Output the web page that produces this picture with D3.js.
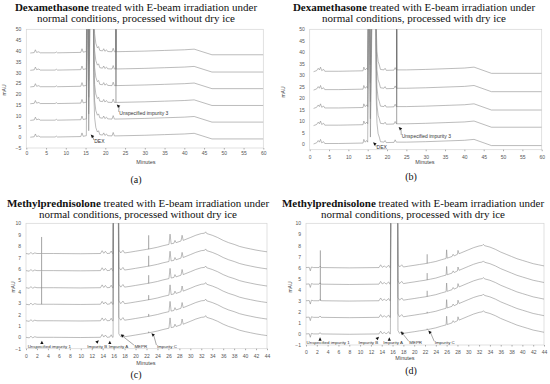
<!DOCTYPE html>
<html>
<head>
<meta charset="utf-8">
<script src="https://cdn.jsdelivr.net/npm/d3@7"></script>
<style>
  body { margin: 0; background: #fff; }
  text { font-family: "Liberation Sans", "Open Sans", sans-serif; }
</style>
</head>
<body>
<div id="d3-container"></div>
<script>
// ---- data ----
// chromatogram profiles: [minutes, mAU] above each trace's baseline offset
const profileA = [[1,0],[2,0.2],[2.3,1.5],[2.6,0.3],[3.2,0.6],[3.5,0.1],[7.3,0.1],[7.6,0.5],[7.9,0.1],
  [13.8,0.3],[14.1,2.0],[14.4,0.4],[14.9,0.6],[15.2,0.7],[15.5,80],[15.8,3],[16.3,80],[16.9,80],
  [17.1,20],[17.3,9],[17.6,4.5],[18.0,2.4],[18.3,3.0],[18.6,1.2],[19.3,1.0],[19.6,2.0],[19.9,0.8],[20.3,1.5],
  [20.6,0.7],[21.7,0.6],[22.0,2.2],[22.3,0.6],[25,0.7],[30,0.9],[35,1.2],[40,1.5],[42.5,1.8],
  [47,-0.8],[60,-0.8]];
const offsetsA = [0, 7.8, 15.5, 23.3, 31, 39];
const spikesA = [[2,22.7,0.6,60],[3,22.7,0.6,60],[4,22.7,0.6,60],[5,22.7,0.6,60]];

const profileB = [[1,0],[1.8,0.5],[2.2,1.5],[2.5,0.8],[2.8,2.0],[3.1,0.5],[3.6,1.0],[3.9,0.2],[7.5,0.2],
  [13.8,0.4],[14.0,2.0],[14.3,0.8],[14.8,1.5],[15.0,0.8],[15.3,80],[15.7,3],[16.3,80],[17.0,80],
  [17.2,20],[17.4,9],[17.7,4.5],[18.0,3.0],[18.3,1.0],[19.2,0.8],[19.5,1.5],[19.8,0.6],[21.8,0.7],[22.1,1.8],
  [22.4,0.8],[25,0.8],[30,1.0],[35,1.3],[40,1.6],[42.5,2.0],[47,-0.7],[60,-0.7]];
const offsetsB = [0, 8, 15.5, 23.5, 31.5];
const spikesB = [[1,22.5,0.8,60],[2,22.5,0.8,60],[3,22.5,0.8,60],[4,22.5,0.8,60]];

const profileC = [[0,0],[0.6,-0.05],[0.9,0.1],[1.2,-0.05],[1.6,0.05],[2.0,0],[5,0],[10,-0.02],[13.6,0],
  [13.9,0.25],[14.2,0.02],[14.5,0.2],[14.8,0],[15.3,0.02],[15.55,0.22],[15.8,0],[15.9,0],[16.15,40],
  [16.6,40],[16.95,0.3],[17.3,0.05],[17.7,0.28],[18.0,0.05],[19,0.12],[20,0.2],[21,0.28],[22,0.36],
  [23,0.45],[24,0.55],[25,0.68],[26.1,0.8],[26.3,1.7],[26.5,0.85],[27.0,0.9],[27.2,1.15],[27.4,0.95],
  [28.3,1.1],[28.5,1.6],[28.7,1.15],[30,1.4],[31,1.6],[32,1.75],[32.6,1.78],[32.8,1.9],[33.0,1.75],
  [34,1.6],[35,1.4],[36,1.15],[37,0.95],[38,0.8],[39,0.62],[40,0.5],[41,0.4],[42,0.3],[43,0.22],[44,0.15]];
const offsetsC = [0, 1.45, 2.9, 4.35, 5.85, 7.35];
const spikesC = [[2,2.85,0,1.45],[3,2.85,0,1.45],[4,2.85,0,1.45],[5,2.85,0,1.45],
  [0,22.4,0.38,0.5],[1,22.4,0.38,0.6],[2,22.4,0.38,0.8],[3,22.4,0.38,1.1],[4,22.4,0.38,1.3],[5,22.4,0.38,1.6]];

const profileD = [[0,0],[0.6,0.02],[0.8,-0.3],[1.0,0.05],[1.4,0],[2.4,0],[2.6,0.12],[2.8,0],[8,-0.03],
  [13.5,0],[13.8,0.25],[14.1,0.02],[14.5,0.15],[14.8,0],[15.3,0.2],[15.5,0],[15.6,0],[15.95,40],
  [16.75,40],[17.0,0.3],[17.3,0.05],[17.7,0.25],[18,0.05],[19,0.13],[20,0.2],[21,0.28],[22,0.35],
  [23,0.45],[24,0.55],[25,0.7],[25.9,0.82],[26.0,1.6],[26.1,0.85],[27,1.0],[27.2,1.2],[27.4,1.05],
  [28,1.2],[28.1,1.55],[28.3,1.25],[30,1.6],[31,1.8],[32,1.95],[32.6,2.0],[32.8,2.1],[33,1.98],
  [34,1.85],[35,1.65],[36,1.4],[37,1.2],[38,1.0],[39,0.8],[40,0.65],[41,0.5],[42,0.35],[43,0.25],[44,0.15]];
const offsetsD = [0, 1.5, 3.0, 4.5, 6.0];
const spikesD = [[2,2.65,0,1.5],[3,2.65,0,1.5],[4,2.65,0,1.55],
  [0,22.4,0.38,0.48],[1,22.4,0.38,0.5],[2,22.4,0.38,0.9],[3,22.4,0.38,1.0],[4,22.4,0.38,1.2]];

// tick labels
const xTicksDex = d3.range(0, 61, 5);
const yTicksDexA = d3.range(-5, 51, 5);
const yTicksDexB = d3.range(0, 51, 5);
const xTicksMp = d3.range(0, 45, 2);
const yTicksMp = d3.range(-1, 11, 1);

// annotations: [text, text minute, text mAU, tip minute, tip mAU, angle, tail]
const notesA = [['DEX',17.2,-1.8,16.3,1.2,-135,true],['Unspecified impurity 3',23.5,11.3,22.9,15.2,-135,true]];
const notesB = [['DEX',17.3,-1.6,16.4,0.8,-135,true],['Unspecified impurity 3',23.8,3.5,23.0,7.4,-135,true]];
const notesC = [['Unspecified impurity 1',0.3,-0.77,2.9,-0.3,-90,false],['Impurity B',11.2,-0.77,13.3,-0.25,-45,false],
  ['Impurity A',15.1,-0.77,15.3,-0.3,-90,false],['MEPR',19.8,-0.77,17.3,0.27,-135,true],
  ['Impurity C',23.9,-0.77,22.9,0.35,-135,true]];
const notesD = [['Unspecified impurity 1',0.1,-0.76,2.6,-0.3,-90,false],['Impurity B',9.7,-0.76,13.5,-0.25,-45,false],
  ['Impurity A',14.3,-0.76,15.4,-0.3,-90,false],['MEPR',19.1,-0.76,17.5,0.2,-135,true],
  ['Impurity C',23.8,-0.76,22.6,0.3,-135,true]];

const width = 550;
const height = 384;

const svg = d3.select('#d3-container')
  .append('svg')
  .attr('width', width)
  .attr('height', height);

const panels = [
  { key: 'a', profile: profileA, offsets: offsetsA, spikes: spikesA, notes: notesA, noteSize: 5,
    xDomain: [0, 60], yDomain: [-5, 50], xRange: [26.3, 263.3], yRange: [148, 29.3],
    xTicks: xTicksDex, yTicks: yTicksDexA, xPad: 2,
    title: ['Dexamethasone', ' treated with E-beam irradiation under', 'normal conditions, processed without dry ice'],
    titleX: 136, titleY: 11, mau: [6, 90], minutes: [146, 164], label: [136, 183] },
  { key: 'b', profile: profileB, offsets: offsetsB, spikes: spikesB, notes: notesB, noteSize: 5,
    xDomain: [0, 60], yDomain: [-2.5, 50], xRange: [309.7, 541.7], yRange: [149.7, 29.3],
    xTicks: xTicksDex, yTicks: yTicksDexB, xPad: 4,
    title: ['Dexamethasone', ' treated with E-beam irradiation under', 'normal conditions, processed with dry ice'],
    titleX: 414, titleY: 11, mau: [285, 92], minutes: [425, 164], label: [411, 180] },
  { key: 'c', profile: profileC, offsets: offsetsC, spikes: spikesC, notes: notesC, noteSize: 4.4,
    xDomain: [0, 44], yDomain: [-1, 10], xRange: [26, 267], yRange: [348.7, 223.3],
    xTicks: xTicksMp, yTicks: yTicksMp, xPad: 4,
    title: ['Methylprednisolone', ' treated with E-beam irradiation under', 'normal conditions, processed without dry ice'],
    titleX: 138, titleY: 207, mau: [15, 287], minutes: [146, 365], label: [136, 378] },
  { key: 'd', profile: profileD, offsets: offsetsD, spikes: spikesD, notes: notesD, noteSize: 4.4,
    xDomain: [0, 44], yDomain: [-1, 10], xRange: [306, 544], yRange: [345, 223.3],
    xTicks: xTicksMp, yTicks: yTicksMp, xPad: 4,
    title: ['Methylprednisolone', ' treated with E-beam irradiation under', 'normal conditions, processed with dry ice'],
    titleX: 413, titleY: 207, mau: [292, 287], minutes: [405, 360], label: [411, 374] }
];

panels.forEach(drawPanel);

function drawPanel(p) {
  const x = d3.scaleLinear().domain(p.xDomain).range(p.xRange);
  const y = d3.scaleLinear().domain(p.yDomain).range(p.yRange);
  const g = svg.append('g');
  const left = p.xRange[0], right = p.xRange[1], top = p.yRange[1], bottom = p.yRange[0];

  // title, serif, first word bold
  const t = g.append('text')
    .attr('x', p.titleX).attr('y', p.titleY)
    .attr('text-anchor', 'middle')
    .style('font-family', '"Liberation Serif", "DejaVu Serif", serif')
    .style('font-size', '11px')
    .attr('fill', '#111');
  t.append('tspan').attr('font-weight', 'bold').text(p.title[0]);
  t.append('tspan').text(p.title[1]);
  g.append('text')
    .attr('x', p.titleX).attr('y', p.titleY + 11.3)
    .attr('text-anchor', 'middle')
    .style('font-family', '"Liberation Serif", "DejaVu Serif", serif')
    .style('font-size', '11px')
    .attr('fill', '#111')
    .text(p.title[2]);

  // plot box
  g.append('rect')
    .attr('x', left).attr('y', top)
    .attr('width', right - left).attr('height', bottom - top)
    .attr('fill', 'none').attr('stroke', '#d4d4d4').attr('stroke-width', 0.7);

  // axes
  g.append('g')
    .attr('transform', `translate(0, ${bottom})`)
    .call(d3.axisBottom(x).tickValues(p.xTicks).tickSize(1.5).tickPadding(p.xPad))
    .call(a => a.select('.domain').remove())
    .call(a => a.selectAll('line').attr('stroke', '#aaa'))
    .call(a => a.selectAll('text').attr('font-size', '5px').attr('fill', '#555'));

  g.append('g')
    .attr('transform', `translate(${left}, 0)`)
    .call(d3.axisLeft(y).tickValues(p.yTicks).tickSize(0).tickPadding(5))
    .call(a => a.select('.domain').remove())
    .call(a => a.selectAll('text').attr('font-size', '5px').attr('fill', '#555'));

  g.append('text')
    .attr('transform', `translate(${p.mau[0]}, ${p.mau[1]}) rotate(-90)`)
    .attr('text-anchor', 'middle').attr('font-size', '5px').attr('fill', '#444')
    .text('mAU');
  g.append('text')
    .attr('x', p.minutes[0]).attr('y', p.minutes[1])
    .attr('text-anchor', 'middle').attr('font-size', '5.5px').attr('fill', '#444')
    .text('Minutes');

  g.append('text')
    .attr('x', p.label[0]).attr('y', p.label[1])
    .attr('text-anchor', 'middle')
    .style('font-family', '"Liberation Serif", "DejaVu Serif", serif')
    .style('font-size', '10px')
    .attr('fill', '#111')
    .text('(' + p.key + ')');

  // traces, clipped to the plot box
  svg.append('clipPath').attr('id', 'clip-' + p.key)
    .append('rect')
    .attr('x', left).attr('y', top)
    .attr('width', right - left).attr('height', bottom - top);

  const plot = g.append('g').attr('clip-path', `url(#clip-${p.key})`);
  const line = d3.line().x(d => x(d[0])).y(d => y(d[1]));

  plot.selectAll('path.trace')
    .data(p.offsets)
    .join('path')
      .attr('class', 'trace')
      .attr('d', off => line(p.profile.map(d => [d[0], d[1] + off])))
      .attr('fill', 'none')
      .attr('stroke', '#858585')
      .attr('stroke-width', 0.55);

  plot.selectAll('line.spike')
    .data(p.spikes)
    .join('line')
      .attr('class', 'spike')
      .attr('x1', s => x(s[1])).attr('x2', s => x(s[1]))
      .attr('y1', s => y(p.offsets[s[0]] + s[2]))
      .attr('y2', s => y(p.offsets[s[0]] + s[3]))
      .attr('stroke', '#707070')
      .attr('stroke-width', 0.65);

  // annotations
  p.notes.forEach(n => {
    const tx = x(n[3]), ty = y(n[4]);
    const ang = n[5] * Math.PI / 180;
    const len = 3.4, half = 1.6;
    const bx = tx - len * Math.cos(ang), by = ty - len * Math.sin(ang);
    const px = -Math.sin(ang) * half, py = Math.cos(ang) * half;
    if (n[6]) {
      g.append('line')
        .attr('x1', bx).attr('y1', by)
        .attr('x2', x(n[1]) - 0.5).attr('y2', y(n[2]) - 1)
        .attr('stroke', '#222').attr('stroke-width', 0.4);
    }
    g.append('path')
      .attr('d', `M${tx},${ty}L${bx + px},${by + py}L${bx - px},${by - py}Z`)
      .attr('fill', '#111');
    g.append('text')
      .attr('x', x(n[1])).attr('y', y(n[2]))
      .attr('dy', '0.35em')
      .attr('font-size', p.noteSize + 'px').attr('fill', '#333')
      .text(n[0]);
  });
}
</script>
</body>
</html>
